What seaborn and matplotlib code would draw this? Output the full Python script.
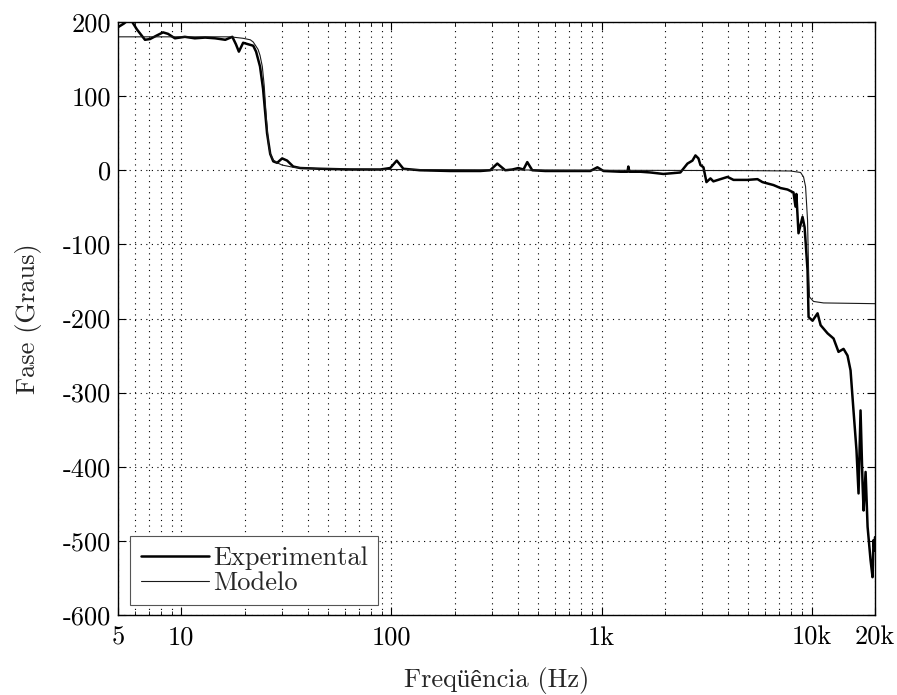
import numpy as np
import pandas as pd
import matplotlib
matplotlib.use("Agg")
import matplotlib.pyplot as plt
import matplotlib.ticker as mticker
import seaborn as sns

# ---- data ----
exp_freq = [5, 5.34, 5.70, 6.15, 6.72, 7.10, 7.67, 8.19, 8.65, 9.33, 10.4, 11.6, 13.0, 14.5,
            16.2, 17.5, 18.2, 18.8, 19.7, 20.8, 22.0, 22.7, 23.7, 24.5, 25.6, 26.5, 27.4,
            28.6, 30.2, 31.9, 34.1, 36.8, 45.8, 63.7, 88.5, 98.7, 106, 114, 137, 190, 265,
            295, 319, 348, 376, 402, 425, 443, 468, 540, 636, 884, 955, 1021, 1230, 1328,
            1341, 1356, 1530, 1708, 1968, 2371, 2563, 2706, 2797, 2890, 2954, 3053, 3155,
            3296, 3404, 3679, 3975, 4244, 4945, 5518, 5828, 6578, 7102, 7669, 8188, 8370,
            8450, 8650, 9040, 9250, 9550, 9660, 10090, 10660, 11020, 11890, 12700, 13410,
            14170, 14800, 15300, 15800, 16330, 16700, 17070, 17450, 17650, 18040, 18440,
            19050, 19470, 19680, 19900, 20000]
exp_phase = [193, 198, 205, 190, 176, 177, 182, 186, 184, 178, 180, 178, 179, 178,
             176, 180, 170, 160, 172, 170, 168, 160, 140, 110, 50, 22, 12,
             10, 16, 13, 5, 3, 2, 1, 1, 3, 13, 2, 0, -1, -1,
             0, 9, 0, 1, 3, 1, 11, 0, -1, -1, -1, 4, -1, -2, -2,
             5, -2, -2, -3, -5, -3, 9, 13, 20, 16, 7, 4, -16,
             -11, -15, -12, -9, -13, -13, -12, -16, -20, -24, -26, -30, -49,
             -32, -85, -63, -77, -135, -198, -203, -193, -209, -220, -227, -245,
             -241, -250, -270, -324, -378, -436, -324, -423, -459, -407, -481,
             -526, -549, -499, -513, -495]

mod_freq = [5, 10, 17.1, 19.7, 21.3, 22.0, 23.2, 23.7, 24.3, 24.8, 25.4, 26.0, 26.5, 27.4,
            28.6, 30.2, 34.1, 45.8, 100, 1000, 5000, 7925, 8850, 9140, 9345, 9550, 9660,
            9760, 10200, 11380, 20000]
mod_phase = [180, 180, 180, 178, 176, 173, 163, 155, 140, 115, 70, 35, 22, 14,
             10, 7, 4, 2, 1, 0, -0.5, -1, -3, -9, -22, -67, -135,
             -171, -177, -179, -180]

series_names = ["Experimental", "Modelo"]
x_ticks = [5, 10, 100, 1000, 10000, 20000]
x_ticklabels = ["5", "10", "100", "1k", "10k", "20k"]
y_ticks = [200, 100, 0, -100, -200, -300, -400, -500, -600]
y_ticklabels = ["200", "100", "0", "-100", "-200", "-300", "-400", "-500", "-600"]

df_exp = pd.DataFrame({"freq": exp_freq, "phase": exp_phase, "serie": series_names[0]})
df_mod = pd.DataFrame({"freq": mod_freq, "phase": mod_phase, "serie": series_names[1]})

sns.set_theme(style="ticks")
fonts = ["cmr10", "Liberation Serif"]
plt.rcParams["font.family"] = fonts
plt.rcParams["axes.unicode_minus"] = False
FS = 19

fig = plt.figure(figsize=(8.97, 6.95), dpi=100)
ax = fig.add_axes([118/897, 1-615/695, (875-118)/897, (615-22)/695])

sns.lineplot(data=df_exp, x="freq", y="phase", ax=ax, color="black", lw=1.8,
             estimator=None, sort=False, label=series_names[0])
sns.lineplot(data=df_mod, x="freq", y="phase", ax=ax, color="#1a1a1a", lw=0.8,
             estimator=None, sort=False, label=series_names[1])

ax.set_xscale("log")
ax.set_xlim(5, 20000)
ax.set_ylim(-600, 200)

ax.xaxis.set_major_locator(mticker.FixedLocator(x_ticks))
ax.set_xticklabels(x_ticklabels)
ax.xaxis.set_minor_locator(mticker.LogLocator(base=10, subs=np.arange(2, 10)))
ax.xaxis.set_minor_formatter(mticker.NullFormatter())
ax.set_yticks(y_ticks)
ax.set_yticklabels(y_ticklabels)

for lab in ax.get_xticklabels() + ax.get_yticklabels():
    lab.set_fontsize(FS)
    lab.set_family(fonts)

ax.tick_params(which="both", direction="in", top=True, right=True, colors="black")
ax.tick_params(axis="x", which="major", length=6, width=0.8, pad=8)
ax.tick_params(axis="y", which="major", length=6, width=0.8, pad=5)
ax.tick_params(which="minor", length=3, width=0.6)

dot = (0, (1, 4))
ax.grid(True, which="major", axis="both", color="black", lw=0.8, linestyle=dot)
ax.grid(True, which="minor", axis="x", color="black", lw=0.8, linestyle=dot)

for s in ax.spines.values():
    s.set_color("black")
    s.set_linewidth(1.0)

ax.set_xlabel("Freqüência (Hz)", fontsize=FS, family=fonts, labelpad=12)
ax.set_ylabel("Fase (Graus)", fontsize=FS, family=fonts, labelpad=15)

leg = ax.legend(loc="lower left", bbox_to_anchor=(0.013, 0.012), fontsize=FS,
                frameon=True, fancybox=False, edgecolor="#555555", framealpha=1,
                handlelength=2.6, handletextpad=0.15, borderpad=0.38, labelspacing=0.05,
                borderaxespad=0.1, prop={"family": fonts, "size": FS})
leg.get_frame().set_linewidth(0.8)

fig.savefig("out.png", dpi=100)
